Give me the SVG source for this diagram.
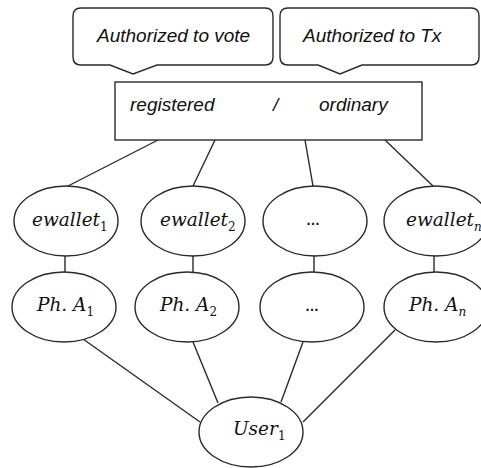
<svg xmlns="http://www.w3.org/2000/svg" width="481" height="468" viewBox="0 0 481 468">
<style>
.shape{fill:#fff;stroke:#2a2a2a;stroke-width:1.4}
.ln{stroke:#2a2a2a;stroke-width:1.4;fill:none}
.lbl{font-family:"Liberation Sans",Arial,sans-serif;font-style:italic;font-size:19px;fill:#111}
.math{font-family:"DejaVu Serif","Liberation Serif",serif;font-style:italic;font-size:18.5px;fill:#111}
.sub{font-size:12px;font-style:normal}
.subi{font-size:12px}
.dots{font-family:"Liberation Sans",Arial,sans-serif;font-size:14px;font-weight:bold;fill:#111}
</style>
<rect width="481" height="468" fill="#fff"/>
<g id="connectors">
<line class="ln" x1="158" y1="140" x2="68" y2="186"/>
<line class="ln" x1="215" y1="140" x2="193" y2="186"/>
<line class="ln" x1="305" y1="140" x2="313" y2="186"/>
<line class="ln" x1="385" y1="140" x2="433" y2="186"/>
<line class="ln" x1="65" y1="256" x2="65" y2="272"/>
<line class="ln" x1="193" y1="256" x2="193" y2="272"/>
<line class="ln" x1="314" y1="256" x2="314" y2="272"/>
<line class="ln" x1="434" y1="256" x2="434" y2="272"/>
<line class="ln" x1="83" y1="339" x2="200" y2="422"/>
<line class="ln" x1="193" y1="342" x2="218" y2="403"/>
<line class="ln" x1="303" y1="342" x2="281" y2="402"/>
<line class="ln" x1="395" y1="330" x2="303" y2="422"/>
</g>
<g id="callout-vote">
<path class="shape" d="M81,8 H265 Q273,8 273,16 V57 Q273,65 265,65 H157 L133,74 L110,65 H81 Q73,65 73,57 V16 Q73,8 81,8 Z"/>
<text class="lbl" x="97" y="42">Authorized to vote</text>
</g>
<g id="callout-tx">
<path class="shape" d="M288,8 H471 Q479,8 479,16 V57 Q479,65 471,65 H362 L340,74 L318,65 H288 Q280,65 280,57 V16 Q280,8 288,8 Z"/>
<text class="lbl" x="303" y="42">Authorized to Tx</text>
</g>
<g id="status">
<rect class="shape" x="115" y="82" width="307" height="58"/>
<text class="lbl" x="130" y="111">registered</text>
<text class="lbl" x="273" y="111">/</text>
<text class="lbl" x="319" y="111">ordinary</text>
</g>
<g id="ewallet1">
<ellipse class="shape" cx="66" cy="221" rx="52" ry="35"/>
<text class="math" x="32" y="226">ewallet<tspan class="sub" dy="5">1</tspan></text>
</g>
<g id="ewallet2">
<ellipse class="shape" cx="193" cy="221" rx="52" ry="35"/>
<text class="math" x="160" y="226">ewallet<tspan class="sub" dy="5">2</tspan></text>
</g>
<g id="ewallet3">
<ellipse class="shape" cx="315" cy="221" rx="52" ry="35"/>
<text class="dots" x="313" y="225" text-anchor="middle">…</text>
</g>
<g id="ewalletn">
<ellipse class="shape" cx="436" cy="221" rx="52" ry="35"/>
<text class="math" x="406" y="226">ewallet<tspan class="subi" dy="5">n</tspan></text>
</g>
<g id="pha1">
<ellipse class="shape" cx="64" cy="307" rx="52" ry="35"/>
<text class="math" x="37" y="311">Ph. A<tspan class="sub" dy="5">1</tspan></text>
</g>
<g id="pha2">
<ellipse class="shape" cx="187" cy="307" rx="52" ry="35"/>
<text class="math" x="160" y="311">Ph. A<tspan class="sub" dy="5">2</tspan></text>
</g>
<g id="pha3">
<ellipse class="shape" cx="312" cy="307" rx="52" ry="35"/>
<text class="dots" x="312" y="311" text-anchor="middle">…</text>
</g>
<g id="phan">
<ellipse class="shape" cx="436" cy="307" rx="52" ry="35"/>
<text class="math" x="409" y="311">Ph. A<tspan class="subi" dy="5">n</tspan></text>
</g>
<g id="user1">
<ellipse class="shape" cx="251" cy="432" rx="52" ry="35"/>
<text class="math" x="233" y="435">User<tspan class="sub" dy="5">1</tspan></text>
</g>
</svg>
